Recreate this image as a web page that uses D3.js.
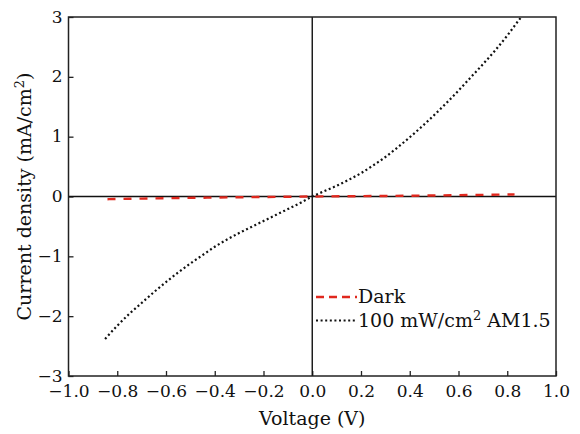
<!DOCTYPE html>
<html>
<head>
<meta charset="utf-8">
<script src="https://cdn.jsdelivr.net/npm/d3@7"></script>
<style>
body { margin: 0; background: #fff; }
</style>
</head>
<body>
<div id="corpo"></div>
<script>
// dados
var voltLight = [-0.85, -0.80, -0.75, -0.70, -0.65, -0.60, -0.55, -0.50, -0.45, -0.40, -0.35, -0.30, -0.25, -0.20, -0.15, -0.10, -0.05,
	0, 0.05, 0.10, 0.15, 0.20, 0.25, 0.30, 0.35, 0.40, 0.45, 0.50, 0.55, 0.60, 0.65, 0.70, 0.75, 0.80, 0.85, 0.86];
var currLight = [-2.38, -2.16, -1.96, -1.78, -1.60, -1.43, -1.27, -1.12, -0.98, -0.84, -0.72, -0.61, -0.51, -0.41, -0.31, -0.21, -0.11,
	0, 0.09, 0.18, 0.28, 0.39, 0.52, 0.66, 0.82, 0.99, 1.17, 1.36, 1.56, 1.77, 1.99, 2.21, 2.44, 2.69, 2.96, 3.01];

var voltDark = [-0.84, -0.7, -0.6, -0.4, -0.2, 0, 0.2, 0.4, 0.6, 0.83];
var currDark = [-0.045, -0.035, -0.028, -0.018, -0.008, 0, 0.006, 0.013, 0.022, 0.035];

var xTicks = [-1.0, -0.8, -0.6, -0.4, -0.2, 0.0, 0.2, 0.4, 0.6, 0.8, 1.0];
var yTicks = [-3, -2, -1, 0, 1, 2, 3];

var legendNames = ["Dark", "100 mW/cm"];

var serif = "'DejaVu Serif', serif";

var width = 580, height = 434;
var pLeft = 68.5, pRight = 556, pTop = 17, pBottom = 376;

var svg = d3.select("#corpo").append("svg")
	.attr("width", width)
	.attr("height", height);

var x = d3.scaleLinear().domain([-1, 1]).range([pLeft, pRight]);
var y = d3.scaleLinear().domain([-3, 3]).range([pBottom, pTop]);

/* eixos com ticks para dentro */
var xAxis = svg.append("g")
	.attr("transform", "translate(0," + pBottom + ")")
	.call(d3.axisBottom(x).tickValues(xTicks).tickSizeInner(-5).tickSizeOuter(0).tickPadding(9)
		.tickFormat(function(d){ return d3.format(".1f")(d).replace("-", "\u2212"); }));

var yAxis = svg.append("g")
	.attr("transform", "translate(" + pLeft + ",0)")
	.call(d3.axisLeft(y).tickValues(yTicks).tickSizeInner(-5).tickSizeOuter(0).tickPadding(6)
		.tickFormat(function(d){ return d3.format("d")(d).replace("-", "\u2212"); }));

svg.selectAll(".domain").remove();
svg.selectAll(".tick line").attr("stroke", "#222").attr("stroke-width", 1.3);
xAxis.attr("font-family", serif).attr("font-size", 17);
yAxis.attr("font-family", serif).attr("font-size", 17);
xAxis.selectAll("text").attr("fill", "#111");
yAxis.selectAll("text").attr("fill", "#111").attr("dy", "0.3em");

// linhas do zero
svg.append("line")
	.attr("x1", x(0)).attr("x2", x(0)).attr("y1", pTop).attr("y2", pBottom)
	.attr("stroke", "#111").attr("stroke-width", 1.4);
svg.append("line")
	.attr("x1", pLeft).attr("x2", pRight).attr("y1", y(0)).attr("y2", y(0))
	.attr("stroke", "#111").attr("stroke-width", 1.4);

var line = d3.line()
	.x(function(d){ return x(d[0]); })
	.y(function(d){ return y(d[1]); })
	.curve(d3.curveMonotoneX);

svg.append("clipPath").attr("id", "clip-area")
	.append("rect").attr("x", pLeft).attr("y", pTop).attr("width", pRight - pLeft).attr("height", pBottom - pTop);

// curva escuro
svg.append("path")
	.datum(d3.zip(voltDark, currDark))
	.attr("d", line)
	.attr("fill", "none")
	.attr("stroke", "#e0281e")
	.attr("stroke-width", 2.4)
	.attr("stroke-dasharray", "8,8");

// curva iluminada
svg.append("path")
	.datum(d3.zip(voltLight, currLight))
	.attr("clip-path", "url(#clip-area)")
	.attr("d", line)
	.attr("fill", "none")
	.attr("stroke", "#111")
	.attr("stroke-width", 2.2)
	.attr("stroke-dasharray", "2,2.6");

// moldura
svg.append("rect")
	.attr("x", pLeft).attr("y", pTop)
	.attr("width", pRight - pLeft).attr("height", pBottom - pTop)
	.attr("fill", "none").attr("stroke", "#222").attr("stroke-width", 1.5);

// títulos dos eixos
svg.append("text")
	.attr("x", (pLeft + pRight) / 2)
	.attr("y", 425)
	.attr("text-anchor", "middle")
	.attr("font-family", serif)
	.attr("font-size", 19)
	.attr("fill", "#111")
	.text("Voltage (V)");

var yTitle = svg.append("text")
	.attr("transform", "translate(31," + y(0) + ") rotate(-90)")
	.attr("text-anchor", "middle")
	.attr("font-family", serif)
	.attr("font-size", 19)
	.attr("fill", "#111");
yTitle.append("tspan").text("Current density (mA/cm");
yTitle.append("tspan").attr("font-size", 13).attr("dy", -7).text("2");
yTitle.append("tspan").attr("dy", 7).text(")");

// legenda
var legY = [297, 320.5];
svg.append("line")
	.attr("x1", 316).attr("x2", 357).attr("y1", legY[0]).attr("y2", legY[0])
	.attr("stroke", "#e0281e").attr("stroke-width", 2.4).attr("stroke-dasharray", "8,5");
svg.append("line")
	.attr("x1", 316).attr("x2", 357).attr("y1", legY[1]).attr("y2", legY[1])
	.attr("stroke", "#111").attr("stroke-width", 2.2).attr("stroke-dasharray", "2,2.6");

svg.append("text")
	.attr("x", 358).attr("y", legY[0] + 6)
	.attr("font-family", serif)
	.attr("font-size", 19)
	.attr("fill", "#111")
	.text(legendNames[0]);

var leg2 = svg.append("text")
	.attr("x", 358).attr("y", legY[1] + 6)
	.attr("font-family", serif)
	.attr("font-size", 19)
	.attr("fill", "#111");
leg2.append("tspan").text(legendNames[1]);
leg2.append("tspan").attr("font-size", 13).attr("dy", -7).text("2");
leg2.append("tspan").attr("dy", 7).text(" AM1.5");
</script>
</body>
</html>
